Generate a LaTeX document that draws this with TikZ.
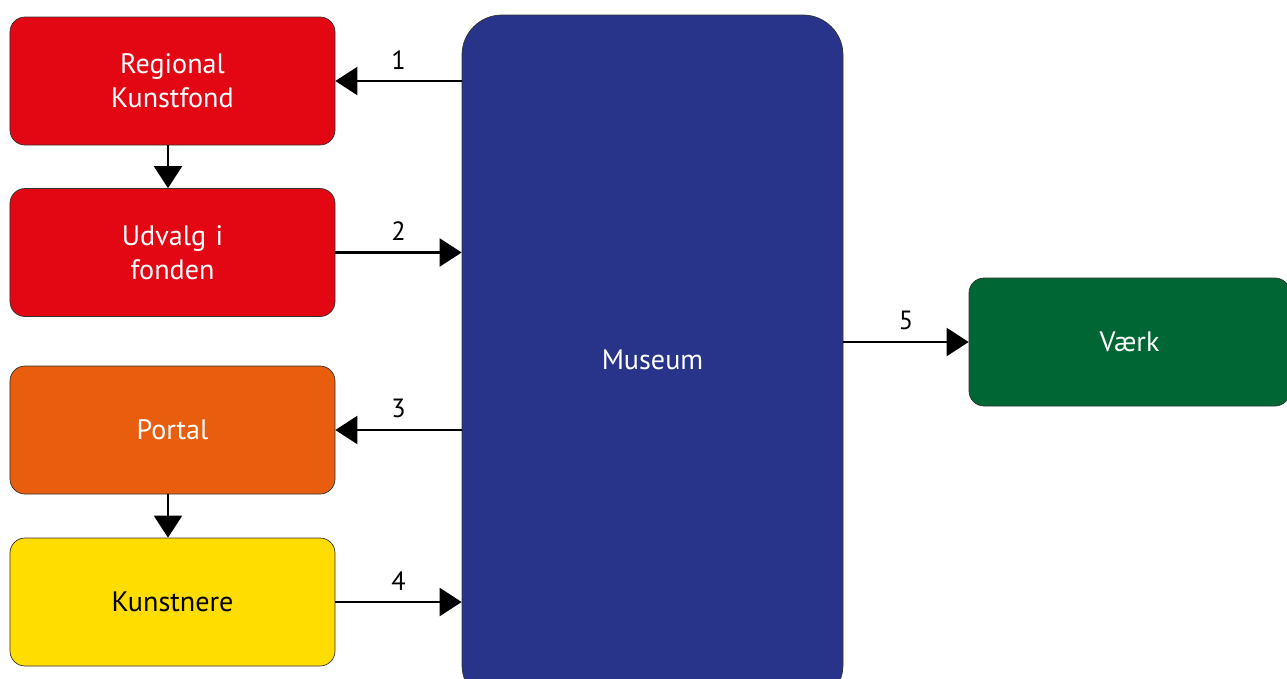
\documentclass[tikz,border=0pt]{standalone}
\usepackage{fontspec}
\setmainfont{PT Sans}
\usetikzlibrary{arrows.meta, positioning, calc}
\definecolor{fondred}{HTML}{E30613}
\definecolor{museumblue}{HTML}{28348A}
\definecolor{portalorange}{HTML}{E95D0F}
\definecolor{artistyellow}{HTML}{FFDD00}
\definecolor{workgreen}{HTML}{006633}
\begin{document}
\begin{tikzpicture}[
        box/.style={rectangle, draw=black!80, line width=0.4pt, rounded corners=0.3cm, minimum width=6.5cm, minimum height=2.56cm, text width=6cm, align=center, font=\fontsize{16}{19.5}\selectfont},
        flow/.style={line width=1.3pt, -{Triangle[length=0.44cm, width=0.56cm]}},
        num/.style={above=0.1cm, font=\fontsize{15}{17}\selectfont}
    ]
        \useasboundingbox (0,0) rectangle (25.74,-13.56);
        \clip (0,0) rectangle (25.74,-13.56);

        \node[box, fill=fondred, text=white] (fond) at (3.45,-1.62) {Regional\\Kunstfond};
        \node[box, fill=fondred, text=white] (udvalg) at (3.45,-5.05) {Udvalg i\\fonden};
        \node[box, fill=portalorange, text=white] (portal) at (3.45,-8.6) {Portal};
        \node[box, fill=artistyellow, text=black] (kunstnere) at (3.45,-12.04) {Kunstnere};
        \node[box, fill=museumblue, text=white, rounded corners=0.8cm, minimum width=7.62cm, minimum height=13.8cm, text width=7cm] (museum) at (13.05,-7.2) {Museum};
        \node[box, fill=workgreen, text=white, minimum width=6.42cm] (vaerk) at (22.59,-6.84) {Værk};

        \draw[flow] ([xshift=-0.09cm]fond.south) -- ([xshift=-0.09cm]udvalg.north);
        \draw[flow] ([xshift=-0.09cm]portal.south) -- ([xshift=-0.09cm]kunstnere.north);
        \draw[flow] (museum.west |- fond.east) -- node[num] {1} (fond.east);
        \draw[flow] (udvalg.east) -- node[num] {2} (museum.west |- udvalg.east);
        \draw[flow] (museum.west |- portal.east) -- node[num] {3} (portal.east);
        \draw[flow] (kunstnere.east) -- node[num] {4} (museum.west |- kunstnere.east);
        \draw[flow] (museum.east |- vaerk.west) -- node[num] {5} (vaerk.west);
    \end{tikzpicture}
\end{document}
